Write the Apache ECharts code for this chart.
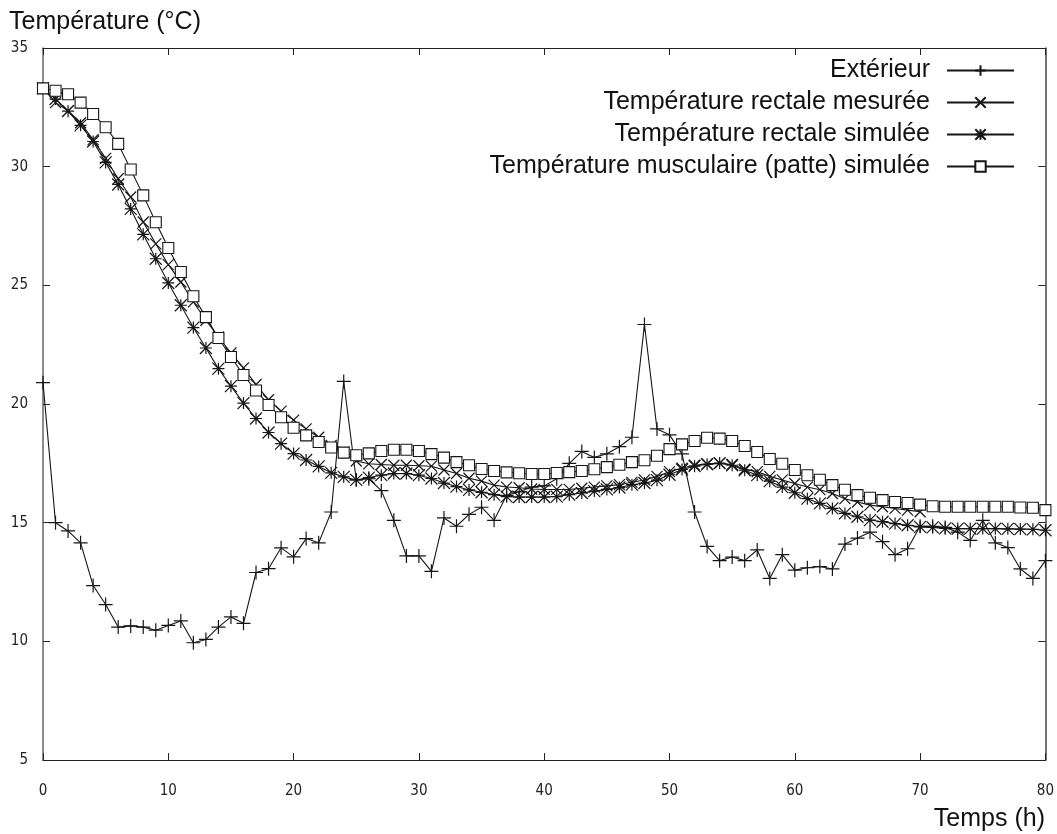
<!DOCTYPE html>
<html>
<head>
<meta charset="utf-8">
<script src="https://cdn.jsdelivr.net/npm/echarts@6/dist/echarts.min.js"></script>
<style>
html,body{margin:0;padding:0;background:#fff;}
#chart{width:1057px;height:834px;}
</style>
</head>
<body>
<div id="chart"></div>
<script>
const hours = [0,1,2,3,4,5,6,7,8,9,10,11,12,13,14,15,16,17,18,19,20,21,22,23,24,25,26,27,28,29,30,31,32,33,34,35,36,37,38,39,40,41,42,43,44,45,46,47,48,49,50,51,52,53,54,55,56,57,58,59,60,61,62,63,64,65,66,67,68,69,70,71,72,73,74,75,76,77,78,79,80];

const exterieur = [20.9,15.0,14.65,14.15,12.35,11.55,10.6,10.65,10.6,10.47,10.67,10.86,9.94,10.08,10.6,11.03,10.76,12.9,13.06,13.94,13.56,14.33,14.15,15.45,20.95,16.8,16.85,16.35,15.1,13.6,13.6,12.95,15.2,14.85,15.35,15.65,15.1,16.15,16.3,16.5,16.55,16.85,17.5,18.0,17.75,17.9,18.2,18.6,23.35,18.95,18.7,17.9,15.45,14.0,13.4,13.55,13.4,13.85,12.65,13.65,13.0,13.1,13.15,13.05,14.1,14.35,14.6,14.2,13.65,13.9,14.85,14.85,14.8,14.6,14.25,15.1,14.15,13.95,13.05,12.65,13.4];

const rectaleMesuree = [33.3,32.7,32.35,31.85,31.14,30.35,29.49,28.72,27.67,26.75,25.87,25.14,24.3,23.53,22.83,22.15,21.52,20.82,20.18,19.7,19.32,18.95,18.6,18.25,17.97,17.6,17.48,17.45,17.42,17.42,17.4,17.38,17.22,17.07,16.87,16.75,16.58,16.5,16.47,16.42,16.4,16.4,16.4,16.45,16.5,16.55,16.6,16.7,16.8,16.95,17.15,17.3,17.42,17.48,17.5,17.45,17.25,17.15,16.95,16.8,16.65,16.5,16.39,16.23,16.01,15.87,15.74,15.67,15.6,15.53,15.46];

const rectaleSimulee = [33.3,32.85,32.34,31.74,31.06,30.18,29.25,28.22,27.15,26.12,25.1,24.16,23.22,22.36,21.49,20.75,20.04,19.39,18.8,18.33,17.91,17.64,17.37,17.1,16.93,16.8,16.9,17.0,17.07,17.07,17.0,16.86,16.67,16.52,16.38,16.28,16.18,16.1,16.08,16.08,16.08,16.1,16.18,16.25,16.33,16.4,16.48,16.6,16.67,16.79,17.02,17.24,17.38,17.46,17.51,17.42,17.21,17.0,16.75,16.5,16.26,16.01,15.81,15.6,15.39,15.25,15.11,15.04,14.96,14.89,14.82,14.8,14.76,14.75,14.75,14.75,14.75,14.74,14.73,14.72,14.68];

const musculaireSimulee = [33.3,33.2,33.05,32.7,32.22,31.66,30.96,29.88,28.79,27.66,26.57,25.56,24.54,23.66,22.78,21.98,21.22,20.57,19.96,19.44,19.0,18.68,18.4,18.17,17.95,17.84,17.92,18.02,18.07,18.07,18.02,17.89,17.74,17.55,17.42,17.26,17.18,17.12,17.08,17.05,17.05,17.09,17.13,17.18,17.25,17.34,17.44,17.55,17.63,17.82,18.1,18.3,18.44,18.58,18.54,18.44,18.23,17.98,17.68,17.48,17.22,17.0,16.81,16.58,16.39,16.16,16.05,15.95,15.87,15.83,15.76,15.69,15.67,15.67,15.67,15.67,15.67,15.67,15.64,15.63,15.53];

const xTicks = [0,10,20,30,40,50,60,70,80];
const yTicks = [5,10,15,20,25,30,35];

const seriesNames = ['Extérieur','Température rectale mesurée','Température rectale simulée','Température musculaire (patte) simulée'];

function pairs(vals){ return vals.map((v,i)=>[hours[i], v]); }

const PLUS = 'path://M0,5L10,5M5,0L5,10';
const CROSS = 'path://M0,0L10,10M10,0L0,10';
const STAR = 'path://M0,0L10,10M10,0L0,10M5,0L5,10M0,5L10,5';

const INK = '#161616';
const chart = echarts.init(document.getElementById('chart'));

function mkSeries(name, vals, symbol, size, isRect){
  return {
    name: name, type: 'line', data: pairs(vals),
    symbol: symbol, symbolSize: size, showSymbol: true,
    lineStyle: {color: INK, width: 1.1},
    itemStyle: isRect ? {color: '#fff', borderColor: INK, borderWidth: 1.1}
                      : {color: 'transparent', borderColor: INK, borderWidth: 1.2},
    animation: false, clip: false
  };
}

const axisFont = {fontFamily: 'DejaVu Sans Condensed', fontSize: 15, color: '#222'};
const tickStyle = {show: true, inside: true, length: 7, lineStyle: {color: '#222', width: 1}};

chart.setOption({
  backgroundColor: '#fff',
  animation: false,
  title: [
    {text: 'Température (°C)', left: 4, top: 5,
     textStyle: {fontFamily: 'Liberation Sans', fontSize: 25, fontWeight: 'normal', color: '#111'}},
    {text: 'Temps (h)', right: 7, bottom: -3,
     textStyle: {fontFamily: 'Liberation Sans', fontSize: 25, fontWeight: 'normal', color: '#111'}}
  ],
  grid: {left: 43, right: 7, top: 48, bottom: 74, containLabel: false},
  legend: {
    orient: 'vertical', right: 42, top: 58, align: 'right', padding: 0,
    itemWidth: 67, itemHeight: 13, itemGap: 7,
    textStyle: {fontFamily: 'Liberation Sans', fontSize: 25, lineHeight: 23, color: '#111', padding: [0, 12, 0, 0]},
    data: seriesNames
  },
  xAxis: [
    {type: 'value', min: 0, max: 80, interval: 10, position: 'bottom',
     axisLine: {show: true, onZero: false, lineStyle: {color: '#222', width: 1.2}},
     axisTick: tickStyle,
     axisLabel: Object.assign({margin: 24, formatter: v => xTicks.includes(v) ? String(v) : ''}, axisFont),
     splitLine: {show: false}},
    {type: 'value', min: 0, max: 80, interval: 10, position: 'top',
     axisLine: {show: true, onZero: false, lineStyle: {color: '#222', width: 1.2}},
     axisTick: tickStyle,
     axisLabel: {show: false}, splitLine: {show: false}}
  ],
  yAxis: [
    {type: 'value', min: 5, max: 35, interval: 5, position: 'left',
     axisLine: {show: true, onZero: false, lineStyle: {color: '#666', width: 1.5}},
     axisTick: tickStyle,
     axisLabel: Object.assign({margin: 15, formatter: v => yTicks.includes(v) ? String(v) : ''}, axisFont),
     splitLine: {show: false}},
    {type: 'value', min: 5, max: 35, interval: 5, position: 'right',
     axisLine: {show: true, onZero: false, lineStyle: {color: '#444', width: 1.5}},
     axisTick: tickStyle,
     axisLabel: {show: false}, splitLine: {show: false}}
  ],
  series: [
    mkSeries(seriesNames[0], exterieur, PLUS, 14, false),
    mkSeries(seriesNames[1], rectaleMesuree, CROSS, 11, false),
    mkSeries(seriesNames[2], rectaleSimulee, STAR, 12, false),
    mkSeries(seriesNames[3], musculaireSimulee, 'rect', 11, true)
  ]
});
</script>
</body>
</html>
